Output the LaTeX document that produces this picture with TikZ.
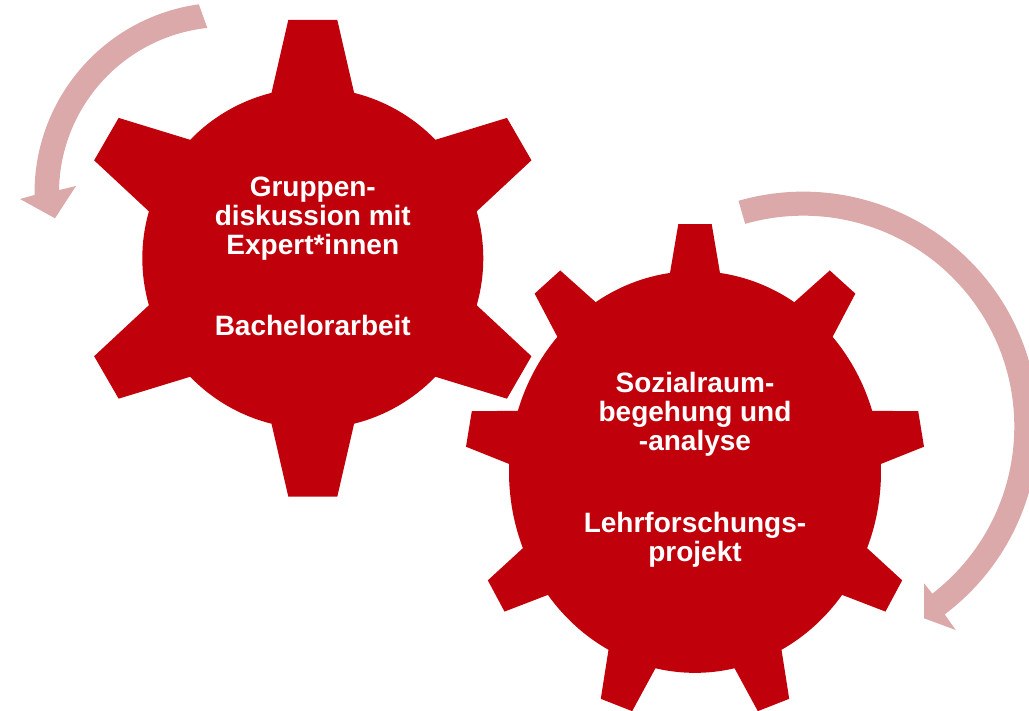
\documentclass[tikz,border=0pt]{standalone}
\usepackage{fontspec}
\setmainfont{Liberation Sans}
\definecolor{gearred}{RGB}{192,0,11}
\definecolor{arrowpink}{RGB}{219,169,170}
\tikzset{
  gearfill/.style={fill=gearred},
  cyclearrow/.style={fill=arrowpink},
  lbl/.style={text=white, font=\fontsize{28}{29}\selectfont\bfseries, anchor=base, inner sep=0pt},
}
\begin{document}
\begin{tikzpicture}[x=1pt,y=1pt]
\useasboundingbox (0,0) rectangle (1029,711);
\clip (0,0) rectangle (1029,711);

% six-tooth gear (upper left)
\begin{scope}[shift={(312.8,452.7)}]
  \fill[gearfill] ({90-14.02}:170.5)
    \foreach \k in {0,...,5}{
      -- ({90+60*\k-14.02}:170.5) -- ({90+60*\k-5.87}:239.6)
      -- ({90+60*\k+5.87}:239.6) -- ({90+60*\k+14.02}:170.5)
      arc[start angle={90+60*\k+14.02}, end angle={150+60*\k-14.02}, radius=170.5]
    } -- cycle;
\end{scope}

% nine-tooth gear (lower right)
\begin{scope}[shift={(695,239)}, yscale=1.08]
  \fill[gearfill] ({90-7.72}:186)
    \foreach \k in {0,...,8}{
      -- ({90+40*\k-7.72}:186) -- ({90+40*\k-4.16}:230.2)
      -- ({90+40*\k+4.16}:230.2) -- ({90+40*\k+7.72}:186)
      arc[start angle={90+40*\k+7.72}, end angle={130+40*\k-7.72}, radius=186]
    } -- cycle;
\end{scope}

% curved arrow, upper left
\begin{scope}[shift={(225,518)}]
  \fill[cyclearrow] (97.9:190.5) arc[start angle=97.9, end angle=180.6, radius=190.5]
    -- (-205,-6) -- (-170,-25.3) -- (-149,7)
    -- (179:166) arc[start angle=179, end angle=96.1, radius=166] -- cycle;
\end{scope}

% curved arrow, right
\begin{scope}[shift={(803.3,284.3)}]
  \fill[cyclearrow] (106:235) arc[start angle=106, end angle=-53, radius=235]
    -- (152.4,-203.3) -- (120.7,-191.6) -- (120.7,-156.6)
    -- (-52.3:211) arc[start angle=-52.3, end angle=106, radius=211] -- cycle;
\end{scope}

% labels of the six-tooth gear
\node[lbl] (g1l1) at (312.8,514) {Gruppen-};
\node[lbl] (g1l2) at (312.8,485) {diskussion mit};
\node[lbl] (g1l3) at (312.8,456) {Expert*innen};
\node[lbl] (g1l4) at (312.8,375) {Bachelorarbeit};

% labels of the nine-tooth gear
\node[lbl] (g2l1) at (695,318) {Sozialraum-};
\node[lbl] (g2l2) at (695,289) {begehung und};
\node[lbl] (g2l3) at (695,260) {-analyse};
\node[lbl] (g2l4) at (695,178) {Lehrforschungs-};
\node[lbl] (g2l5) at (695,149) {projekt};
\end{tikzpicture}
\end{document}
